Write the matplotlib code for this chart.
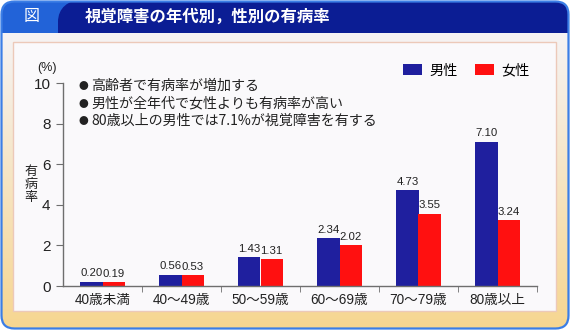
import numpy as np
import matplotlib
matplotlib.use('Agg')
import matplotlib.pyplot as plt
from matplotlib.patches import FancyBboxPatch, Rectangle, PathPatch
from matplotlib.path import Path
from matplotlib.colors import to_rgb

## Data
ages= ['40歳未満','40～49歳','50～59歳','60～69歳','70～79歳','80歳以上']
male= [0.20,0.56,1.43,2.34,4.73,7.10]
female= [0.19,0.53,1.31,2.02,3.55,3.24]
yticks= [0,2,4,6,8,10]
notes= ['高齢者で有病率が増加する',
        '男性が全年代で女性よりも有病率が高い',
        '80歳以上の男性では7.1%が視覚障害を有する']
title= '視覚障害の年代別，性別の有病率'

jp= ['Noto Sans CJK JP','DejaVu Sans']
num= ['Liberation Sans','Noto Sans CJK JP']
c_m, c_f= '#1f1f9e', '#ff1010'
c_ax= '#6e6e6e'

W,H= 570,330
fig= plt.figure(figsize=(W/100,H/100),dpi=100)
fig.patch.set_facecolor('white')

### Frame drawn in pixel coordinates
bg= fig.add_axes([0,0,1,1],zorder=0)
bg.set_xlim(0,W); bg.set_ylim(H,0); bg.axis('off')

outer= FancyBboxPatch((1.5,1.5),W-3,H-3,boxstyle='round,pad=0,rounding_size=13',
                      fc='none',ec='none',transform=bg.transData)
bg.add_patch(outer)

## vertical gradient, pale at top to cream at bottom
top_c, bot_c= np.array(to_rgb('#f5f3f4')), np.array(to_rgb('#f7d690'))
tt= np.linspace(0,1,200)[:,None,None]
grad= top_c*(1-tt)+bot_c*tt
im= bg.imshow(grad,extent=(0,W,H,33),aspect='auto',zorder=1)
im.set_clip_path(outer)

## header
hl= Rectangle((0,0),W,33,fc='#2263d8',ec='none',zorder=2)
bg.add_patch(hl); hl.set_clip_path(outer)
verts= [(58,33),(58,22),(58,8),(68,0),(82,0),(W,0),(W,33),(58,33)]
codes= [Path.MOVETO,Path.LINETO,Path.CURVE4,Path.CURVE4,Path.CURVE4,
        Path.LINETO,Path.LINETO,Path.CLOSEPOLY]
hd= PathPatch(Path(verts,codes),fc='#0b1d94',ec='none',zorder=3)
bg.add_patch(hd); hd.set_clip_path(outer)

edge= FancyBboxPatch((1.5,1.5),W-3,H-3,boxstyle='round,pad=0,rounding_size=13',
                     fc='none',ec='#3b7ee6',lw=1.6,zorder=5)
bg.add_patch(edge)

bg.add_patch(Rectangle((13,42),543,269,fc='#faf9fb',ec='#ecc9b9',lw=1,zorder=4))

bg.text(32,17,'図',color='white',fontsize=11.5,family=jp,ha='center',va='center',zorder=6)
bg.text(85,17,title,color='white',fontsize=11.8,family=jp,weight='bold',
        ha='left',va='center',zorder=6)

### Bar chart
ax= fig.add_axes([63/W,(H-286)/H,474/W,203/H],zorder=2)
ax.patch.set_alpha(0)
xx= np.arange(len(ages))
wd= 0.28
b1= ax.bar(xx-wd/2,male,width=wd,color=c_m,label='男性')
b2= ax.bar(xx+wd/2,female,width=wd,color=c_f,label='女性')
for bars,vals in zip([b1,b2],[male,female]):
    for b,v in zip(bars,vals):
        ax.text(b.get_x()+b.get_width()/2,v+0.17,'{:.2f}'.format(v),ha='center',va='bottom',
                fontsize=8.2,family=num,color='#222222')

ax.set_xlim(-0.5,len(ages)-0.5)
ax.set_ylim(0,10)
ax.set_yticks(yticks)
ax.set_yticklabels([str(v) for v in yticks],family=num,fontsize=11,color='#222222')
ax.set_xticks(xx)
ax.set_xticklabels(ages,family=num,fontsize=9.8,color='#222222')
ax.set_xticks(list(xx[:-1]+0.5)+[len(ages)-0.5],minor=True)
ax.tick_params(axis='x',which='major',length=0,pad=5)
ax.tick_params(axis='x',which='minor',length=4,color=c_ax,direction='out')
ax.tick_params(axis='y',length=5,color=c_ax,pad=4)
for s in ['top','right']:
    ax.spines[s].set_visible(False)
for s in ['left','bottom']:
    ax.spines[s].set_color(c_ax)
    ax.spines[s].set_linewidth(1)

ax.text(-0.034,1.074,'(%)',transform=ax.transAxes,ha='center',va='center',
        fontsize=9,family=num,color='#222222')
ax.text(-0.067,0.5,'有\n病\n率',transform=ax.transAxes,ha='center',va='center',
        fontsize=9.4,family=jp,linespacing=1.0,color='#222222')

for i,nt in enumerate(notes):
    yt= 0.985-i*0.086
    ax.text(0.043,yt,'●',transform=ax.transAxes,ha='center',va='center',
            fontsize=7,family=jp,color='#222222')
    ax.text(0.06,yt,nt,transform=ax.transAxes,ha='left',va='center',
            fontsize=10.1,family=jp,color='#222222')

leg= ax.legend(loc='upper right',bbox_to_anchor=(0.985,1.095),ncol=2,frameon=False,
               prop={'family':jp,'size':10.2},handlelength=1.3,handleheight=0.85,
               handletextpad=0.55,columnspacing=1.25,borderpad=0,borderaxespad=0)

plt.savefig('out.png',dpi=100)
